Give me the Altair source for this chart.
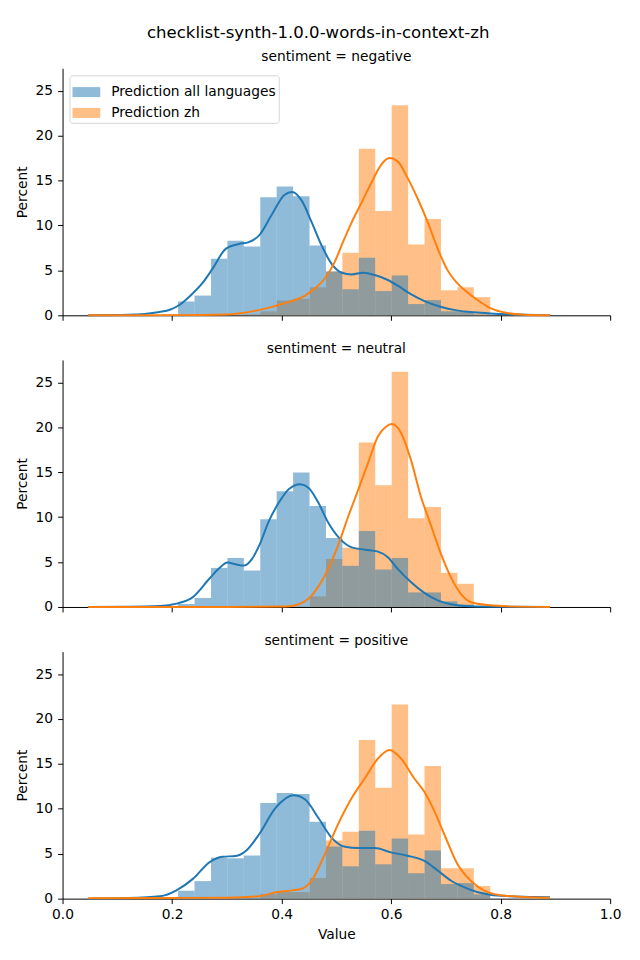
import altair as alt
import pandas as pd

TITLE = "checklist-synth-1.0.0-words-in-context-zh"
PANELS = ["negative", "neutral", "positive"]
SERIES = ["Prediction all languages", "Prediction zh"]
COLORS = ["#1f77b4", "#ff7f0e"]
FONT = "DejaVu Sans"

# histogram bins (left edges), width 0.03
BIN_LEFT = [0.181, 0.211, 0.241, 0.271, 0.301, 0.331, 0.361, 0.391, 0.421, 0.451,
            0.481, 0.511, 0.541, 0.571, 0.601, 0.631, 0.661, 0.691, 0.721, 0.751, 0.781]
BIN_WIDTH = 0.03

# percent per bin
NEG_ALL = [0.1, 1.54, 2.2, 6.31, 8.3, 7.67, 13.14, 14.35, 13.25, 7.78,
           4.9, 2.9, 6.42, 2.7, 4.44, 1.25, 1.69, 0.45, 0.4, 0.1, 0.0]
NEG_ZH = [0.0, 0.0, 0.0, 0.0, 0.05, 0.1, 0.44, 1.65, 1.84, 3.12,
          4.85, 6.97, 18.54, 11.6, 23.38, 7.89, 10.72, 2.79, 3.12, 2.02, 0.0]
NEU_ALL = [0.0, 0.33, 1.0, 4.35, 5.46, 4.06, 9.78, 12.88, 14.98, 11.25,
           7.68, 4.58, 8.45, 4.17, 5.46, 1.62, 1.62, 0.63, 0.26, 0.0, 0.0]
NEU_ZH = [0.0, 0.0, 0.0, 0.0, 0.0, 0.0, 0.0, 0.0, 0.05, 1.18,
          5.35, 6.6, 18.3, 13.54, 26.2, 9.89, 11.14, 3.8, 2.58, 0.0, 0.0]
POS_ALL = [0.15, 0.88, 1.95, 4.56, 4.49, 4.8, 10.66, 11.76, 11.65, 8.57,
           5.81, 3.6, 7.57, 3.82, 6.69, 2.83, 5.37, 1.62, 1.73, 0.48, 0.0]
POS_ZH = [0.0, 0.0, 0.0, 0.0, 0.0, 0.0, 0.51, 0.73, 0.73, 2.3,
          6.47, 7.46, 17.65, 12.35, 21.6, 7.13, 14.78, 3.38, 3.38, 1.4, 0.0]

# KDE curves (x, percent)
NEG_ALL_KX = [0.047, 0.12, 0.177, 0.196, 0.214, 0.232, 0.256, 0.274, 0.298, 0.322, 0.34,
              0.359, 0.383, 0.405, 0.419, 0.437, 0.455, 0.473, 0.491, 0.51, 0.528, 0.549,
              0.57, 0.594, 0.612, 0.636, 0.66, 0.69, 0.72, 0.751, 0.781, 0.842, 0.89]
NEG_ALL_KY = [0.0, 0.05, 0.37, 0.62, 1.17, 2.1, 3.63, 5.2, 7.4, 7.93, 8.15,
              8.9, 11.3, 13.4, 13.73, 12.74, 10.35, 7.78, 5.76, 4.74, 4.55, 4.74,
              4.48, 3.93, 3.3, 2.35, 1.6, 0.95, 0.55, 0.33, 0.2, 0.07, 0.02]
NEG_ZH_KX = [0.047, 0.2, 0.298, 0.347, 0.389, 0.419, 0.443, 0.461, 0.479, 0.497, 0.512,
             0.528, 0.546, 0.564, 0.582, 0.597, 0.612, 0.63, 0.649, 0.667, 0.685, 0.703,
             0.721, 0.739, 0.757, 0.781, 0.812, 0.842, 0.89]
NEG_ZH_KY = [0.0, 0.02, 0.1, 0.44, 1.05, 1.6, 2.2, 3.0, 4.1, 5.95, 8.15,
             10.35, 12.55, 14.76, 16.78, 17.5, 17.14, 15.3, 12.92, 10.35, 7.42, 5.03,
             3.56, 2.57, 1.73, 0.81, 0.26, 0.07, 0.0]
NEU_ALL_KX = [0.047, 0.12, 0.178, 0.208, 0.238, 0.268, 0.286, 0.301, 0.316, 0.332, 0.346,
              0.359, 0.377, 0.395, 0.413, 0.434, 0.449, 0.467, 0.485, 0.507, 0.528, 0.552,
              0.576, 0.594, 0.612, 0.636, 0.66, 0.685, 0.709, 0.745, 0.8, 0.89]
NEU_ALL_KY = [0.0, 0.02, 0.1, 0.37, 1.1, 3.14, 4.3, 4.95, 4.75, 4.61, 5.35,
              6.83, 9.59, 11.62, 13.1, 13.65, 13.28, 11.62, 9.41, 7.56, 6.64, 6.38,
              6.16, 5.54, 4.24, 2.77, 1.59, 0.74, 0.3, 0.07, 0.02, 0.0]
NEU_ZH_KX = [0.047, 0.3, 0.407, 0.431, 0.455, 0.479, 0.503, 0.521, 0.539, 0.558, 0.576,
             0.591, 0.601, 0.618, 0.636, 0.654, 0.673, 0.691, 0.709, 0.727, 0.745, 0.781,
             0.812, 0.89]
NEU_ZH_KY = [0.0, 0.0, 0.04, 0.3, 1.3, 3.5, 6.83, 9.96, 12.9, 16.05, 19.0,
             20.1, 20.37, 19.4, 16.4, 12.36, 9.04, 5.9, 3.32, 1.48, 0.55, 0.18,
             0.07, 0.0]
POS_ALL_KX = [0.047, 0.12, 0.178, 0.208, 0.238, 0.268, 0.292, 0.316, 0.335, 0.359, 0.389,
              0.422, 0.443, 0.467, 0.491, 0.516, 0.54, 0.57, 0.6, 0.63, 0.66, 0.685,
              0.709, 0.733, 0.757, 0.781, 0.818, 0.86, 0.89]
POS_ALL_KY = [0.0, 0.06, 0.26, 0.92, 2.2, 4.04, 4.67, 4.74, 5.33, 7.17, 10.1,
              11.5, 11.03, 9.0, 6.8, 5.77, 5.63, 5.63, 5.15, 4.78, 4.23, 3.13,
              2.02, 1.29, 0.74, 0.44, 0.26, 0.18, 0.15]
POS_ZH_KX = [0.047, 0.2, 0.3, 0.359, 0.389, 0.419, 0.437, 0.455, 0.479, 0.503, 0.528,
             0.552, 0.576, 0.597, 0.618, 0.642, 0.66, 0.679, 0.697, 0.721, 0.745, 0.769,
             0.8, 0.842, 0.89]
POS_ZH_KY = [0.05, 0.08, 0.1, 0.26, 0.7, 0.92, 1.1, 2.02, 4.96, 8.27, 11.2,
             13.4, 15.6, 16.54, 15.6, 13.4, 11.95, 9.74, 7.17, 3.86, 2.02, 0.92,
             0.37, 0.18, 0.1]

HIST = {
    "negative": (NEG_ALL, NEG_ZH),
    "neutral": (NEU_ALL, NEU_ZH),
    "positive": (POS_ALL, POS_ZH),
}
KDE = {
    "negative": ((NEG_ALL_KX, NEG_ALL_KY), (NEG_ZH_KX, NEG_ZH_KY)),
    "neutral": ((NEU_ALL_KX, NEU_ALL_KY), (NEU_ZH_KX, NEU_ZH_KY)),
    "positive": ((POS_ALL_KX, POS_ALL_KY), (POS_ZH_KX, POS_ZH_KY)),
}

X_TICKS = [0.0, 0.2, 0.4, 0.6, 0.8, 1.0]
Y_TICKS = [0, 5, 10, 15, 20, 25]
FS = 13.9
W, H = 552, 249

fill_scale = alt.Scale(domain=SERIES, range=COLORS)


def make_panel(name, first, last):
    all_vals, zh_vals = HIST[name]
    rows = []
    # orange drawn first, blue on top
    for s, vals in ((SERIES[1], zh_vals), (SERIES[0], all_vals)):
        for lo, v in zip(BIN_LEFT, vals):
            if v > 0:
                rows.append({"series": s, "lo": lo, "hi": lo + BIN_WIDTH, "pct": v})
    bars_df = pd.DataFrame(rows)

    krows = []
    for s, (kx, ky) in zip(SERIES, KDE[name]):
        for x, y in zip(kx, ky):
            krows.append({"series": s, "x": x, "pct": y})
    kde_df = pd.DataFrame(krows)

    xaxis = alt.Axis(values=X_TICKS, labels=last, title="Value" if last else None,
                     format=".1f", grid=False, tickSize=5, labelPadding=4,
                     titlePadding=6, labelFlush=False)
    yaxis = alt.Axis(values=Y_TICKS, title="Percent", grid=False, tickSize=5,
                     labelPadding=5, titlePadding=6, labelFlush=False)
    xs = alt.Scale(domain=[0, 1], nice=False, zero=False)
    ys = alt.Scale(domain=[0, 27.5], nice=False)

    if first:
        legend = alt.Legend(
            orient="none", legendX=7, legendY=7, title=None,
            symbolType="M-1,-0.36H1V0.36H-1Z", symbolSize=784,
            symbolOpacity=0.5, symbolStrokeWidth=0,
            labelFontSize=FS, labelFont=FONT, labelColor="black", labelLimit=0,
            labelOffset=11, rowPadding=0, padding=3,
            strokeColor="#d6d6d6", fillColor="white", cornerRadius=3,
        )
    else:
        legend = None

    bars = alt.Chart(bars_df).mark_bar(opacity=0.5, strokeWidth=0).encode(
        x=alt.X("lo:Q", scale=xs, axis=xaxis),
        x2="hi:Q",
        y=alt.Y("pct:Q", scale=ys, axis=yaxis, stack=None),
        y2=alt.datum(0),
        fill=alt.Fill("series:N", scale=fill_scale, legend=legend, sort=SERIES),
    )
    lines = alt.Chart(kde_df).mark_line(strokeWidth=2, interpolate="monotone").encode(
        x=alt.X("x:Q", scale=xs, axis=xaxis),
        y=alt.Y("pct:Q", scale=ys, axis=yaxis),
        stroke=alt.Stroke("series:N", scale=fill_scale, legend=None),
    )
    return alt.layer(bars, lines).properties(
        width=W, height=H,
        title=alt.TitleParams(f"sentiment = {name}", fontSize=FS, fontWeight="normal",
                              font=FONT, anchor="middle", offset=4, color="black"),
    )


panels = [make_panel(n, i == 0, i == len(PANELS) - 1) for i, n in enumerate(PANELS)]

chart = alt.vconcat(*panels, spacing=20).resolve_legend(fill="independent").properties(
    title=alt.TitleParams(TITLE, fontSize=16.7, fontWeight="normal", font=FONT,
                          anchor="middle", offset=9, color="black"),
    padding={"left": 7, "top": 13, "right": 10, "bottom": 5},
).configure(font=FONT).configure_view(stroke=None).configure_axis(
    domainColor="black", tickColor="black", labelColor="black", titleColor="black",
    labelFont=FONT, titleFont=FONT, labelFontSize=FS, titleFontSize=FS,
    titleFontWeight="normal", domainWidth=1, tickWidth=1,
)

chart.save("out.html", embed_options={"renderer": "svg", "actions": False})
